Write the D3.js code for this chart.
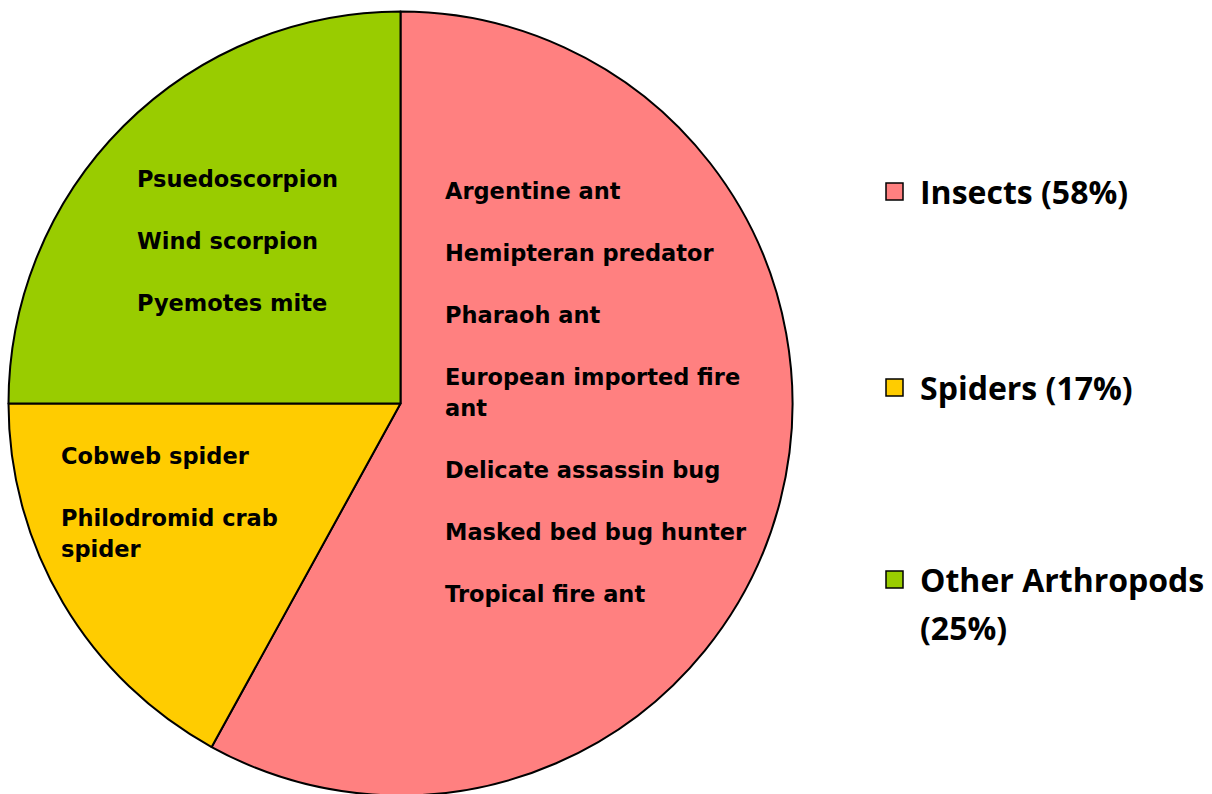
<!DOCTYPE html>
<html><head><meta charset="utf-8">
<script src="https://cdn.jsdelivr.net/npm/d3@7"></script>
<style>html,body{margin:0;padding:0;background:#fff;}</style>
</head><body>
<svg id="c" width="1212" height="794"></svg>
<script>
const categories = ["Insects", "Spiders", "Other Arthropods"];
const values = [58, 17, 25];
const colors = ["#FF8080", "#FFCC00", "#99CC00"];
const legendLines = [["Insects (58%)"], ["Spiders (17%)"], ["Other Arthropods", "(25%)"]];
const insectLabels = [["Argentine ant"], ["Hemipteran predator"], ["Pharaoh ant"], ["European imported fire", "ant"], ["Delicate assassin bug"], ["Masked bed bug hunter"], ["Tropical fire ant"]];
const spiderLabels = [["Cobweb spider"], ["Philodromid crab", "spider"]];
const otherLabels = [["Psuedoscorpion"], ["Wind scorpion"], ["Pyemotes mite"]];

const svg = d3.select("#c");
const cx = 400.5, cy = 403.5, R = 392;
const pie = d3.pie().sort(null).value(d => d)(values);
const arc = d3.arc().innerRadius(0).outerRadius(R);
const g = svg.append("g").attr("transform", `translate(${cx},${cy})`);
g.selectAll("path").data(pie).join("path")
  .attr("d", arc).attr("fill", (d, i) => colors[i])
  .attr("stroke", "#000").attr("stroke-width", 2).attr("stroke-linejoin", "round");

function block(labels, x, y0, lh) {
  let y = y0;
  const t = svg.append("g").attr("font-family", "DejaVu Sans, Verdana, sans-serif")
    .attr("font-weight", "bold").attr("font-size", 22.5).attr("fill", "#000");
  labels.forEach(item => {
    item.forEach(line => {
      t.append("text").attr("x", x).attr("y", y).text(line);
      y += lh;
    });
    y += lh;
  });
}
block(insectLabels, 445, 199, 31);
block(otherLabels, 137, 187, 31);
block(spiderLabels, 61, 464, 31);

const legY = [192, 388, 580];
const lg = svg.append("g");
categories.forEach((c, i) => {
  lg.append("rect").attr("x", 886).attr("y", legY[i] - 9).attr("width", 17).attr("height", 17)
    .attr("fill", colors[i]).attr("stroke", "#000").attr("stroke-width", 1.5);
  legendLines[i].forEach((line, j) => {
    lg.append("text").attr("x", 920).attr("y", legY[i] + 12 + j * 48)
      .attr("font-family", "'Open Sans', Lato, sans-serif").attr("font-weight", "bold")
      .attr("font-size", 32).attr("fill", "#000").text(line);
  });
});
</script>
</body></html>
